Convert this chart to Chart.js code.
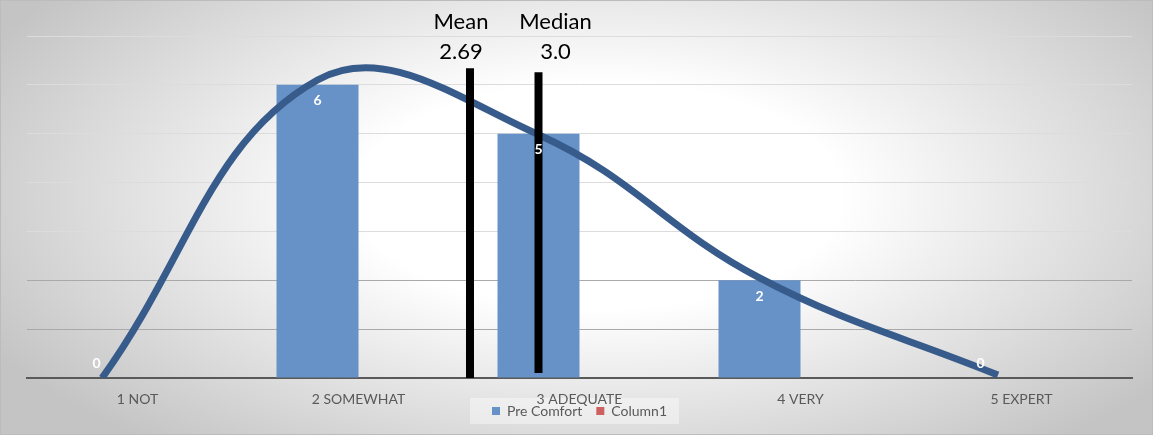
<!DOCTYPE html>
<html>
<head>
<meta charset="utf-8">
<script src="https://cdn.jsdelivr.net/npm/chart.js@4/dist/chart.umd.min.js"></script>
<style>
  html, body { margin: 0; padding: 0; }
  #frame {
    width: 1153px;
    height: 435px;
    box-sizing: border-box;
    border: 1px solid #bcbcbc;
    background: radial-gradient(ellipse 60% 75% at 52% 45%, #ffffff 0%, #ffffff 35%, #c4c4c4 100%);
  }
  #chart { display: block; }
</style>
</head>
<body>
<div id="frame"><canvas id="chart" width="1151" height="433"></canvas></div>
<script>
// comfort levels on the category axis
const categories = ['1 NOT', '2 SOMEWHAT', '3 ADEQUATE', '4 VERY', '5 EXPERT'];
const preComfort = [0, 6, 5, 2, 0];
const column1 = [0, 0, 0, 0, 0];

// smoothed distribution curve, x in comfort-level units
const curveX = [1.025, 2, 3, 4, 5.079];
const curveY = [0, 6.1, 4.98, 2.05, 0.06];

// summary markers
const meanValue = 2.69;
const medianValue = 3.0;
const meanSpan = [0, 6.34];
const medianSpan = [0.1, 6.26];

const CAT_PCT = 0.742;
const FONT = 'Lato, "Open Sans", sans-serif';

// a comfort level sits at the centre of its Pre Comfort bar,
// which is the left half of each category group
const levelToIndex = v => v - 1 - CAT_PCT / 4;

const curvePoints = curveX.map((x, i) => ({x: levelToIndex(x), y: curveY[i]}));

const markerLine = (label, value, span) => ({
    type: 'line',
    label: label,
    parsing: false,
    data: [{x: levelToIndex(value), y: span[0]}, {x: levelToIndex(value), y: span[1]}],
    borderColor: '#000000',
    borderWidth: 8,
    borderCapStyle: 'butt',
    pointRadius: 0,
    tension: 0,
    order: 1
});

// category names under the axis (drawn here so the legend can sit close below)
const axisLabels = {
    id: 'axisLabels',
    afterDraw(chart) {
        const ctx = chart.ctx;
        const x = chart.scales.x;
        ctx.save();
        ctx.fillStyle = '#595959';
        ctx.font = '14px ' + FONT;
        ctx.textAlign = 'center';
        ctx.textBaseline = 'middle';
        categories.forEach((c, i) => ctx.fillText(c, x.getPixelForTick(i), x.top + 21));
        ctx.restore();
    }
};

// white value labels just inside the top of each Pre Comfort bar
const barLabels = {
    id: 'barLabels',
    afterDatasetsDraw(chart) {
        const ctx = chart.ctx;
        const meta = chart.getDatasetMeta(0);
        ctx.save();
        ctx.fillStyle = '#ffffff';
        ctx.font = 'bold 14px ' + FONT;
        ctx.textAlign = 'center';
        ctx.textBaseline = 'middle';
        meta.data.forEach((bar, i) => {
            const v = preComfort[i];
            const y = v > 0 ? bar.y + 16 : bar.base - 15;
            ctx.fillText(String(v), bar.x, y);
        });
        ctx.restore();
    }
};

// "Mean" / "Median" captions above the marker lines
const markerLabels = {
    id: 'markerLabels',
    afterDraw(chart) {
        const ctx = chart.ctx;
        const x = chart.scales.x;
        ctx.save();
        ctx.fillStyle = '#000000';
        ctx.font = '22px ' + FONT;
        ctx.textAlign = 'center';
        ctx.textBaseline = 'middle';
        const items = [
            ['Mean', meanValue.toFixed(2), x.getPixelForValue(levelToIndex(meanValue)) - 9],
            ['Median', medianValue.toFixed(1), x.getPixelForValue(levelToIndex(medianValue)) + 17]
        ];
        items.forEach(([title, text, px]) => {
            ctx.fillText(title, px, 21);
            ctx.fillText(text, px, 51);
        });
        ctx.restore();
    }
};

// pale panel behind the legend entries
const legendBack = {
    id: 'legendBack',
    beforeDraw(chart) {
        const boxes = chart.legend.legendHitBoxes;
        if (!boxes || !boxes.length) return;
        const left = Math.min(...boxes.map(b => b.left)) - 22;
        const right = Math.max(...boxes.map(b => b.left + b.width)) + 12;
        const mid = boxes[0].top + boxes[0].height / 2;
        const ctx = chart.ctx;
        ctx.save();
        ctx.fillStyle = 'rgba(255,255,255,0.4)';
        ctx.fillRect(left, mid - 13, right - left, 26);
        ctx.restore();
    }
};

new Chart(document.getElementById('chart'), {
    data: {
        labels: categories,
        datasets: [
            {
                type: 'bar',
                label: 'Pre Comfort',
                data: preComfort,
                backgroundColor: '#6792c7',
                categoryPercentage: CAT_PCT,
                barPercentage: 1,
                order: 3
            },
            {
                type: 'bar',
                label: 'Column1',
                data: column1,
                backgroundColor: '#cd6060',
                categoryPercentage: CAT_PCT,
                barPercentage: 1,
                order: 3
            },
            {
                type: 'line',
                label: 'curve',
                parsing: false,
                data: curvePoints,
                borderColor: '#375b8b',
                borderWidth: 7,
                pointRadius: 0,
                tension: 0.4,
                order: 2
            },
            markerLine('mean', meanValue, meanSpan),
            markerLine('median', medianValue, medianSpan)
        ]
    },
    options: {
        responsive: false,
        animation: false,
        layout: {
            padding: {left: 26, right: 20, top: 35, bottom: 6}
        },
        scales: {
            x: {
                type: 'category',
                offset: true,
                grid: {display: false, drawTicks: false},
                border: {display: true, color: '#595959', width: 2},
                ticks: {display: false},
                afterFit: scale => { scale.height = 12; }
            },
            y: {
                min: 0,
                max: 7,
                ticks: {display: false, stepSize: 1},
                grid: {
                    drawTicks: false,
                    color: ctx => ctx.tick && ctx.tick.value <= 2 ? '#a9a9a9' : '#dcdcdc'
                },
                border: {display: false}
            }
        },
        plugins: {
            legend: {
                position: 'bottom',
                labels: {
                    boxWidth: 8,
                    boxHeight: 8,
                    padding: 14,
                    color: '#595959',
                    font: {family: FONT, size: 14},
                    filter: item => item.text === 'Pre Comfort' || item.text === 'Column1'
                }
            },
            tooltip: {enabled: false}
        }
    },
    plugins: [legendBack, axisLabels, barLabels, markerLabels]
});
</script>
</body>
</html>
